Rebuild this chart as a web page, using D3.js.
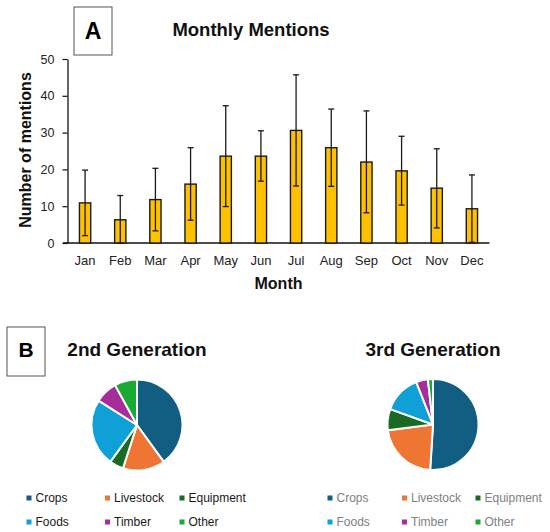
<!DOCTYPE html>
<html>
<head>
<meta charset="utf-8">
<script src="https://cdn.jsdelivr.net/npm/d3@7"></script>
<style>
  html, body { margin: 0; padding: 0; background: #fff; }
  svg text { font-family: "Liberation Sans", Arial, sans-serif; }
</style>
</head>
<body>
<svg id="chart" width="550" height="532"></svg>
<script>
// ---- Data ----
const months = ["Jan","Feb","Mar","Apr","May","Jun","Jul","Aug","Sep","Oct","Nov","Dec"];
const mentions = [10.9, 6.3, 11.8, 16.0, 23.6, 23.6, 30.6, 25.9, 22.0, 19.6, 14.9, 9.3];
const errUpper = [19.8, 12.9, 20.3, 25.9, 37.3, 30.5, 45.7, 36.4, 35.9, 29.0, 25.6, 18.5];
const errLower = [2.0, 0.0, 3.3, 6.2, 9.9, 16.8, 15.5, 15.4, 8.2, 10.3, 4.1, 0.2];
const yTicks = [0, 10, 20, 30, 40, 50];

const categories = ["Crops","Livestock","Equipment","Foods","Timber","Other"];
const gen2Shares = [40, 15, 5, 24, 8, 8];
const gen3Shares = [51, 22, 7.5, 13.5, 4.2, 1.8];
const catColors = ["#125E82","#EE7533","#196B24","#10A0D8","#A52E9C","#18AA32"];

const svg = d3.select("#chart");

// ---- Panel A ----
const x = d3.scaleBand().domain(months).range([67.5, 489.5]).paddingInner(0.68).paddingOuter(0.34);
const y = d3.scaleLinear().domain([0, 50]).range([243, 59]);

// label box A
svg.append("rect").attr("x", 74).attr("y", 7).attr("width", 38).attr("height", 48)
  .attr("fill", "none").attr("stroke", "#555").attr("stroke-width", 1);
svg.append("text").attr("x", 93).attr("y", 39).attr("text-anchor", "middle")
  .attr("font-size", 23).attr("font-weight", "bold").attr("fill", "#000").text("A");

svg.append("text").attr("x", 251).attr("y", 36).attr("text-anchor", "middle")
  .attr("font-size", 18.5).attr("font-weight", "bold").attr("fill", "#111").text("Monthly Mentions");

// y axis
const yAxis = svg.append("g").attr("transform", "translate(67.5,0)")
  .call(d3.axisLeft(y).tickValues(yTicks).tickSize(5).tickPadding(8).tickSizeOuter(0));
yAxis.select(".domain").attr("stroke", "#111").attr("stroke-width", 1.3);
yAxis.selectAll(".tick line").attr("stroke", "#111").attr("stroke-width", 1.2);
yAxis.selectAll(".tick text").attr("font-size", 12.5).attr("fill", "#222")
  .style("font-family", "'Liberation Sans', Arial, sans-serif");

// x axis
const xAxis = svg.append("g").attr("transform", "translate(0,243)")
  .call(d3.axisBottom(x).tickSize(0).tickPadding(13));
xAxis.select(".domain").remove();
xAxis.selectAll(".tick text").attr("font-size", 13).attr("fill", "#222")
  .style("font-family", "'Liberation Sans', Arial, sans-serif");
svg.append("line").attr("x1", 63).attr("x2", 489.5).attr("y1", 243).attr("y2", 243)
  .attr("stroke", "#111").attr("stroke-width", 1.3);

// bars
svg.append("g").selectAll("rect").data(months).join("rect")
  .attr("x", d => x(d)).attr("width", x.bandwidth())
  .attr("y", (d, i) => y(mentions[i])).attr("height", (d, i) => y(0) - y(mentions[i]))
  .attr("fill", "#FFC000").attr("stroke", "#1a1a1a").attr("stroke-width", 1.4);

// error bars
const eb = svg.append("g").attr("stroke", "#1a1a1a").attr("stroke-width", 1.3);
months.forEach((m, i) => {
  const cx = x(m) + x.bandwidth() / 2;
  eb.append("line").attr("x1", cx).attr("x2", cx).attr("y1", y(errUpper[i])).attr("y2", y(errLower[i]));
  eb.append("line").attr("x1", cx - 3).attr("x2", cx + 3).attr("y1", y(errUpper[i])).attr("y2", y(errUpper[i]));
  eb.append("line").attr("x1", cx - 3).attr("x2", cx + 3).attr("y1", y(errLower[i])).attr("y2", y(errLower[i]));
});

svg.append("text").attr("transform", "translate(31,150) rotate(-90)").attr("text-anchor", "middle")
  .attr("font-size", 16).attr("font-weight", "bold").attr("fill", "#111").text("Number of mentions");
svg.append("text").attr("x", 278.5).attr("y", 289).attr("text-anchor", "middle")
  .attr("font-size", 16).attr("font-weight", "bold").attr("fill", "#111").text("Month");

// ---- Panel B ----
svg.append("rect").attr("x", 7).attr("y", 327).attr("width", 38).attr("height", 49)
  .attr("fill", "none").attr("stroke", "#555").attr("stroke-width", 1);
svg.append("text").attr("x", 26).attr("y", 357).attr("text-anchor", "middle")
  .attr("font-size", 21).attr("font-weight", "bold").attr("fill", "#000").text("B");

const pie = d3.pie().sort(null).value(d => d);
const arc = d3.arc().innerRadius(0).outerRadius(45.5);

function drawPie(cx, cy, shares, title, titleX, legendX, textColor) {
  svg.append("text").attr("x", titleX).attr("y", 356).attr("text-anchor", "middle")
    .attr("font-size", 19).attr("font-weight", "bold").attr("fill", "#111").text(title);
  const g = svg.append("g").attr("transform", `translate(${cx},${cy})`);
  g.selectAll("path").data(pie(shares)).join("path")
    .attr("d", arc).attr("fill", (d, i) => catColors[i])
    .attr("stroke", "#fff").attr("stroke-width", 2).attr("stroke-linejoin", "round");
  const rows = [498, 522];
  categories.forEach((c, i) => {
    const col = i % 3, row = Math.floor(i / 3);
    const lx = legendX[col], ly = rows[row];
    svg.append("rect").attr("x", lx - 2.5).attr("y", ly - 2.5).attr("width", 5).attr("height", 5)
      .attr("fill", catColors[i]);
    svg.append("text").attr("x", lx + 6.5).attr("y", ly + 4.3).attr("font-size", 12)
      .attr("fill", textColor).text(c);
  });
}

drawPie(137, 425, gen2Shares, "2nd Generation", 137, [29, 107.5, 182], "#1a1a1a");
drawPie(433, 424.5, gen3Shares, "3rd Generation", 433, [330, 404.5, 478], "#808080");
</script>
</body>
</html>
